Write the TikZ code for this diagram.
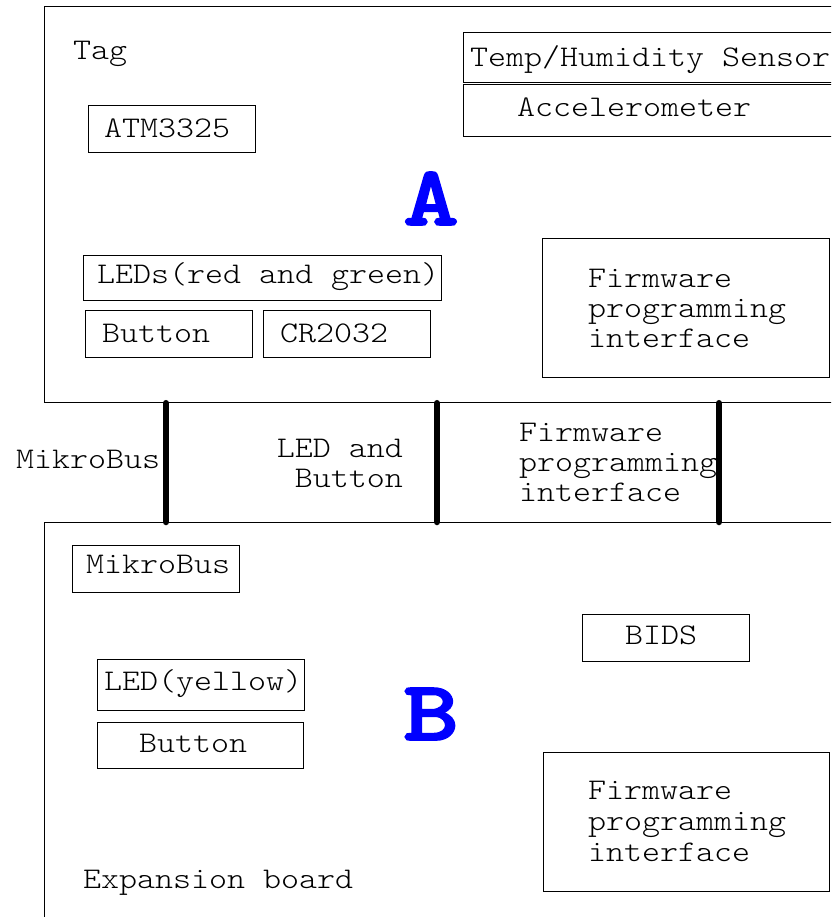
\documentclass[tikz,border=0pt]{standalone}
\usepackage{fontspec}
\newfontfamily\cour{lmmonolt10-regular.otf}[FakeStretch=1.143]
\newfontfamily\courbig{lmmonolt10-bold.otf}[FakeStretch=1.25,FakeBold=2]
\begin{document}
\begin{tikzpicture}[x=1pt,y=-1pt,
  box/.style={draw=black,line width=1pt,rectangle,inner sep=0pt,anchor=north west},
  board/.style={draw=black,line width=1.2pt,rectangle,inner sep=0pt,anchor=north west},
  txt/.style={inner sep=0pt,anchor=base west,font=\cour\fontsize{30}{30}\selectfont},
  big/.style={inner sep=0pt,anchor=base,text=blue,font=\courbig\fontsize{85}{85}\selectfont},
  bus/.style={line width=6.5pt,line cap=round,draw=black}]
\useasboundingbox (0,0) rectangle (831,917);
\clip (0,0) rectangle (831,917);
% boards
\node[board,minimum width=900pt,minimum height=396pt] (tag) at (44,6) {};
\node[board,minimum width=900pt,minimum height=500pt] (exp) at (44,522) {};
% Tag board contents
\node[txt] (tagl) at (73,60) {Tag};
\node[box,minimum width=167pt,minimum height=47pt] (atm) at (88,105) {};
\node[txt] at (104,138) {ATM3325};
\node[box,minimum width=420pt,minimum height=50pt] (temp) at (463,32) {};
\node[txt] at (470,67) {Temp/Humidity Sensor};
\node[box,minimum width=420pt,minimum height=52pt] (acc) at (463,84) {};
\node[txt] at (517,117) {Accelerometer};
\node[big] (A) at (431,225) {A};
\node[box,minimum width=358pt,minimum height=45pt] (leds) at (83,255) {};
\node[txt] at (97,283) {LEDs(red and green)};
\node[box,minimum width=167pt,minimum height=47pt] (btn) at (85,310) {};
\node[txt] at (102,342) {Button};
\node[box,minimum width=167pt,minimum height=47pt] (cr) at (263,310) {};
\node[txt] at (280,342) {CR2032};
\node[box,minimum width=287pt,minimum height=139pt] (fw1) at (542,238) {};
\node[txt] at (588,287) {Firmware};
\node[txt] at (588,317) {programming};
\node[txt] at (588,347) {interface};
% connectors
\coordinate (x1) at (166,0);
\coordinate (x2) at (437,0);
\coordinate (x3) at (719,0);
\draw[bus] (tag.south -| x1) -- (exp.north -| x1);
\draw[bus] (tag.south -| x2) -- (exp.north -| x2);
\draw[bus] (tag.south -| x3) -- (exp.north -| x3);
\node[txt] at (16,468) {MikroBus};
\node[txt,anchor=base east] at (403,457) {LED and};
\node[txt,anchor=base east] at (403,487) {Button};
\node[txt] at (519,441) {Firmware};
\node[txt] at (519,471) {programming};
\node[txt] at (519,501) {interface};
% Expansion board contents
\node[box,minimum width=167pt,minimum height=47pt] (mb) at (72,545) {};
\node[txt] at (86,573) {MikroBus};
\node[box,minimum width=167pt,minimum height=47pt] (bids) at (582,614) {};
\node[txt] at (625,644) {BIDS};
\node[box,minimum width=207pt,minimum height=51pt] (ledy) at (97,659) {};
\node[txt] at (104,690) {LED(yellow)};
\node[box,minimum width=206pt,minimum height=46pt] (btn2) at (97,722) {};
\node[txt] at (139,752) {Button};
\node[big] (B) at (431,740) {B};
\node[box,minimum width=286pt,minimum height=139pt] (fw2) at (543,752) {};
\node[txt] at (588,799) {Firmware};
\node[txt] at (588,830) {programming};
\node[txt] at (588,861) {interface};
\node[txt] (expl) at (83,888) {Expansion board};
\end{tikzpicture}
\end{document}
